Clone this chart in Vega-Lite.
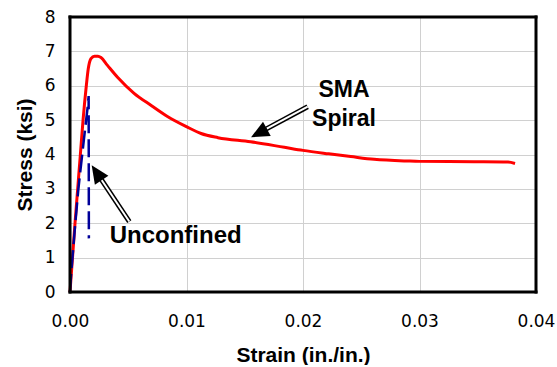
{
  "$schema": "https://vega.github.io/schema/vega-lite/v6.json",
  "width": 466,
  "height": 275,
  "padding": {"left": 14, "top": 8, "right": 3, "bottom": 0},
  "background": "white",
  "config": {
    "axis": {
      "labelFont": "DejaVu Sans",
      "labelFontSize": 17,
      "labelColor": "black",
      "labelFlush": false,
      "labelOverlap": false,
      "domain": false,
      "titleFont": "Liberation Sans",
      "titleFontSize": 21,
      "titleFontWeight": "bold",
      "titleColor": "black"
    }
  },
  "datasets": {
    "border": [
      {"edge": "top", "strain": 0, "stress": 8, "strainB": 0.04, "stressB": 8},
      {"edge": "right", "strain": 0.04, "stress": 0, "strainB": 0.04, "stressB": 8},
      {"edge": "bottom", "strain": 0, "stress": 0, "strainB": 0.04, "stressB": 0},
      {"edge": "left", "strain": 0, "stress": 0, "strainB": 0, "stressB": 8}
    ],
    "curves": [
      {"series": "SMA Spiral", "order": 1, "strain": 0, "stress": 0},
      {"series": "SMA Spiral", "order": 2, "strain": 0.00043, "stress": 2.0},
      {"series": "SMA Spiral", "order": 3, "strain": 0.00089, "stress": 4.0},
      {"series": "SMA Spiral", "order": 4, "strain": 0.00112, "stress": 5.0},
      {"series": "SMA Spiral", "order": 5, "strain": 0.0014, "stress": 6.0},
      {"series": "SMA Spiral", "order": 6, "strain": 0.00157, "stress": 6.5},
      {"series": "SMA Spiral", "order": 7, "strain": 0.0018, "stress": 6.79},
      {"series": "SMA Spiral", "order": 8, "strain": 0.0021, "stress": 6.86},
      {"series": "SMA Spiral", "order": 9, "strain": 0.0024, "stress": 6.86},
      {"series": "SMA Spiral", "order": 10, "strain": 0.00266, "stress": 6.82},
      {"series": "SMA Spiral", "order": 11, "strain": 0.0032, "stress": 6.6},
      {"series": "SMA Spiral", "order": 12, "strain": 0.0041, "stress": 6.24},
      {"series": "SMA Spiral", "order": 13, "strain": 0.0055, "stress": 5.78},
      {"series": "SMA Spiral", "order": 14, "strain": 0.007, "stress": 5.42},
      {"series": "SMA Spiral", "order": 15, "strain": 0.0084, "stress": 5.1},
      {"series": "SMA Spiral", "order": 16, "strain": 0.01, "stress": 4.81},
      {"series": "SMA Spiral", "order": 17, "strain": 0.01125, "stress": 4.61},
      {"series": "SMA Spiral", "order": 18, "strain": 0.0127, "stress": 4.49},
      {"series": "SMA Spiral", "order": 19, "strain": 0.0155, "stress": 4.37},
      {"series": "SMA Spiral", "order": 20, "strain": 0.0184, "stress": 4.21},
      {"series": "SMA Spiral", "order": 21, "strain": 0.02, "stress": 4.12},
      {"series": "SMA Spiral", "order": 22, "strain": 0.0222, "stress": 4.02},
      {"series": "SMA Spiral", "order": 23, "strain": 0.0241, "stress": 3.94},
      {"series": "SMA Spiral", "order": 24, "strain": 0.0261, "stress": 3.86},
      {"series": "SMA Spiral", "order": 25, "strain": 0.029, "stress": 3.81},
      {"series": "SMA Spiral", "order": 26, "strain": 0.03, "stress": 3.8},
      {"series": "SMA Spiral", "order": 27, "strain": 0.0347, "stress": 3.79},
      {"series": "SMA Spiral", "order": 28, "strain": 0.0376, "stress": 3.78},
      {"series": "SMA Spiral", "order": 29, "strain": 0.0382, "stress": 3.74}
    ],
    "unconfined": [
      {"series": "Unconfined", "order": 1, "strain": 0, "stress": 0},
      {"series": "Unconfined", "order": 2, "strain": 0.0001, "stress": 0.54},
      {"series": "Unconfined", "order": 3, "strain": 0.00043, "stress": 1.9},
      {"series": "Unconfined", "order": 4, "strain": 0.00071, "stress": 2.97},
      {"series": "Unconfined", "order": 5, "strain": 0.00109, "stress": 4.13},
      {"series": "Unconfined", "order": 6, "strain": 0.00132, "stress": 4.81},
      {"series": "Unconfined", "order": 7, "strain": 0.00152, "stress": 5.39},
      {"series": "Unconfined", "order": 8, "strain": 0.0016, "stress": 5.7},
      {"series": "Unconfined", "order": 9, "strain": 0.00162, "stress": 1.56}
    ],
    "shafts": [
      {"arrow": "SMA", "strain": 0.0204, "stress": 5.39, "strainB": 0.01622, "stressB": 4.63, "strainW": 0.01689, "stressW": 4.75},
      {"arrow": "Unconfined", "strain": 0.00509, "stress": 2.05, "strainB": 0.00224, "stressB": 3.5, "strainW": 0.00267, "stressW": 3.28}
    ],
    "smaHead": [{"strain": 0.01554, "stress": 4.5}],
    "uncHead": [{"strain": 0.00186, "stress": 3.69}],
    "labels": [
      {"text": "SMA", "strain": 0.02352, "stress": 5.88, "size": "s"},
      {"text": "Spiral", "strain": 0.02352, "stress": 5.04, "size": "s"},
      {"text": "Unconfined", "strain": 0.00907, "stress": 1.63, "size": "u"}
    ]
  },
  "encoding": {
    "x": {"field": "strain", "type": "quantitative",
      "scale": {"domain": [0, 0.04], "nice": false, "zero": false},
      "axis": {"values": [0, 0.01, 0.02, 0.03, 0.04], "format": ".2f", "grid": true, "gridColor": "#d0d0d0", "gridWidth": 1,
        "ticks": false, "labelPadding": 21, "title": "Strain (in./in.)", "titlePadding": 15}},
    "y": {"field": "stress", "type": "quantitative",
      "scale": {"domain": [0, 8], "nice": false, "zero": false},
      "axis": {"values": [0, 1, 2, 3, 4, 5, 6, 7, 8], "grid": true, "gridColor": "#d0d0d0", "gridWidth": 1,
        "ticks": false, "labelPadding": 15, "title": "Stress (ksi)", "titlePadding": 9}}
  },
  "layer": [
    {
      "data": {"name": "curves"},
      "mark": {"type": "line", "color": "#ff0000", "strokeWidth": 3, "interpolate": "monotone"},
      "encoding": {"order": {"field": "order"}}
    },
    {
      "data": {"name": "unconfined"},
      "mark": {"type": "line", "color": "#000099", "strokeWidth": 2.5, "strokeDash": [18, 6]},
      "encoding": {"order": {"field": "order"}}
    },
    {
      "data": {"name": "border"},
      "mark": {"type": "rule", "color": "#000000", "strokeWidth": 3, "opacity": 1, "strokeCap": "square"},
      "encoding": {"x2": {"field": "strainB"}, "y2": {"field": "stressB"}}
    },
    {
      "data": {"name": "shafts"},
      "mark": {"type": "rule", "color": "black", "strokeWidth": 5},
      "encoding": {"x2": {"field": "strainB"}, "y2": {"field": "stressB"}}
    },
    {
      "data": {"name": "shafts"},
      "mark": {"type": "rule", "color": "white", "strokeWidth": 2},
      "encoding": {"x2": {"field": "strainW"}, "y2": {"field": "stressW"}}
    },
    {
      "data": {"name": "smaHead"},
      "mark": {"type": "point", "shape": "M0,0L-0.9,2L0.9,2Z", "filled": true, "color": "black", "opacity": 1, "size": 324, "angle": 241.6},
      "encoding": {}
    },
    {
      "data": {"name": "uncHead"},
      "mark": {"type": "point", "shape": "M0,0L-0.9,2L0.9,2Z", "filled": true, "color": "black", "opacity": 1, "size": 324, "angle": 326.4},
      "encoding": {}
    },
    {
      "data": {"name": "labels"},
      "transform": [{"filter": "datum.size == 's'"}],
      "mark": {"type": "text", "font": "Liberation Sans", "fontWeight": "bold", "fontSize": 23, "color": "black", "align": "center", "baseline": "middle"},
      "encoding": {"text": {"field": "text"}}
    },
    {
      "data": {"name": "labels"},
      "transform": [{"filter": "datum.size == 'u'"}],
      "mark": {"type": "text", "font": "Liberation Sans", "fontWeight": "bold", "fontSize": 24, "color": "black", "align": "center", "baseline": "middle"},
      "encoding": {"text": {"field": "text"}}
    }
  ]
}
